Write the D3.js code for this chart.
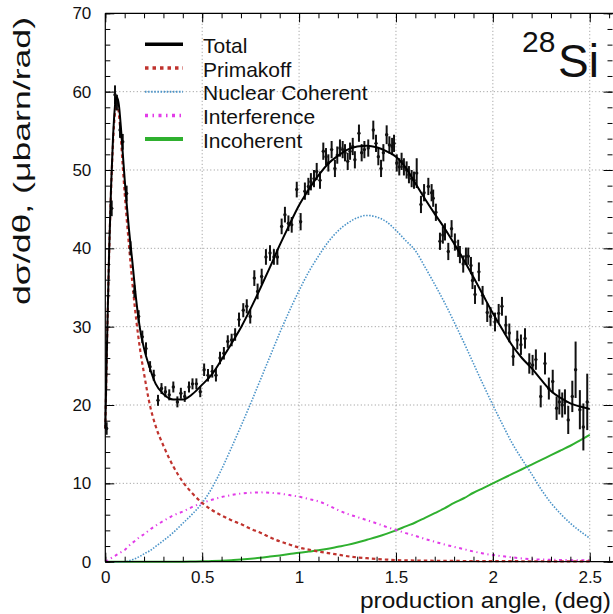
<!DOCTYPE html>
<html><head><meta charset="utf-8">
<script src="https://cdn.jsdelivr.net/npm/d3@7"></script>
<style>body{margin:0;background:#fff}svg{display:block}text{font-family:"Liberation Sans",Arial,Helvetica,sans-serif;fill:#111}</style>
</head><body><svg id="c" width="613" height="614"></svg>
<script>
// ---- curve grid (production angle, deg) ----
const gridAngle = [0,0.01,0.02,0.03,0.04,0.05,0.055,0.06,0.065,0.07,0.08,0.09,0.1,0.12,0.14,0.16,0.18,0.2,0.23,0.26,0.3,0.35,0.4,0.45,0.5,0.55,0.6,0.65,0.7,0.75,0.8,0.85,0.9,0.95,1.0,1.05,1.1,1.15,1.2,1.25,1.3,1.35,1.4,1.45,1.5,1.55,1.6,1.65,1.7,1.75,1.8,1.85,1.9,1.95,2.0,2.05,2.1,2.15,2.2,2.25,2.3,2.35,2.4,2.45,2.5];
const totalCurve = [17,29.2,39.8,48,54.2,58.2,59.2,59.3,59,58.3,55.6,52.2,48.8,43,38.2,33.3,29.6,27.2,24.7,22.7,21.4,20.7,20.7,21.4,22.6,23.9,25.8,27.8,29.9,32.3,34.9,37.6,40.4,43.0,45.5,47.5,49.3,50.8,51.8,52.6,53.0,53.1,52.9,52.4,51.7,50.3,48.3,46.3,44.4,42.6,40.6,38.5,36.3,34.0,31.7,29.6,27.6,26.0,24.7,23.2,21.8,20.9,20.2,19.8,19.5];
const primakoffCurve = [17,29,39.5,47.5,53.5,57.3,58.3,58.5,58.2,57.2,54.2,50.5,47,41,35.5,30.8,27,24,20,17.3,14.8,12.2,10.2,8.7,7.5,6.6,5.9,5.3,4.8,4.2,3.7,3.1,2.6,2.2,1.8,1.55,1.3,1.1,0.9,0.7,0.55,0.45,0.35,0.27,0.2,0.17,0.15,0.13,0.12,0.1,0.1,0.09,0.09,0.08,0.08,0.07,0.07,0.06,0.06,0.06,0.05,0.05,0.05,0.05,0.05];
const nuclearCurve = [0,0,0,0,0,0,0,0,0,0,0,0,0,0.1,0.25,0.45,0.7,1.0,1.4,1.95,2.7,3.7,4.9,6.1,7.5,9.4,11.8,14.5,17.3,20.2,23.2,26.2,29.2,32.0,34.6,37.0,39.0,40.8,42.2,43.2,43.9,44.2,44.0,43.4,42.3,41.0,39.7,37.6,35.4,33.1,30.6,28.0,25.3,22.6,20.0,17.5,15.1,13.1,11.2,9.2,7.5,6.1,4.9,3.9,3.0];
const interferenceCurve = [0,0.15,0.3,0.45,0.6,0.75,0.83,0.9,0.97,1.05,1.2,1.35,1.5,2.0,2.4,2.8,3.2,3.5,4.1,4.6,5.2,5.9,6.4,7.0,7.5,7.9,8.25,8.5,8.7,8.8,8.85,8.8,8.7,8.5,8.3,8.0,7.7,7.2,6.6,6.1,5.7,5.3,4.9,4.45,4.05,3.65,3.3,2.9,2.55,2.2,1.9,1.6,1.3,1.05,0.85,0.7,0.55,0.42,0.32,0.28,0.25,0.22,0.2,0.2,0.2];
const incoherentCurve = [0,0,0,0,0,0,0,0,0,0,0,0,0,0,0,0,0,0,0,0,0,0,0,0.02,0.05,0.08,0.13,0.2,0.28,0.38,0.5,0.65,0.8,0.97,1.15,1.3,1.45,1.65,1.9,2.15,2.45,2.8,3.15,3.55,4.0,4.5,5.0,5.6,6.2,6.8,7.5,8.1,8.8,9.4,10.0,10.6,11.2,11.8,12.4,13.0,13.6,14.2,14.8,15.5,16.2];

// ---- measured points ----
const dataAngle = [0.007,0.033,0.050,0.060,0.076,0.090,0.110,0.130,0.150,0.172,0.191,0.210,0.231,0.250,0.272,0.290,0.310,0.330,0.351,0.372,0.390,0.410,0.432,0.450,0.470,0.490,0.510,0.530,0.552,0.571,0.592,0.612,0.632,0.652,0.670,0.690,0.712,0.730,0.748,0.769,0.786,0.807,0.829,0.850,0.870,0.888,0.910,0.927,0.945,0.962,0.988,1.008,1.030,1.048,1.061,1.077,1.091,1.108,1.125,1.139,1.151,1.168,1.185,1.197,1.211,1.225,1.237,1.251,1.263,1.277,1.288,1.309,1.323,1.337,1.357,1.383,1.397,1.409,1.423,1.435,1.452,1.466,1.480,1.490,1.504,1.517,1.529,1.541,1.555,1.567,1.581,1.593,1.607,1.629,1.645,1.667,1.684,1.692,1.706,1.727,1.742,1.753,1.770,1.787,1.804,1.821,1.830,1.847,1.861,1.873,1.887,1.895,1.908,1.928,1.947,1.971,1.988,2.011,2.030,2.047,2.067,2.085,2.105,2.126,2.145,2.166,2.188,2.205,2.222,2.247,2.269,2.289,2.309,2.329,2.343,2.358,2.372,2.389,2.410,2.427,2.449,2.467,2.487];
const dataValue = [17.0,45.1,59.6,58.6,55.1,53.6,47.0,40.0,34.5,31.3,28.7,27.2,24.9,23.8,20.6,22.1,21.7,21.3,22.3,20.4,21.5,21.1,22.3,22.7,22.7,21.7,24.5,23.8,24.3,23.8,26.0,26.6,28.1,28.3,29.0,30.9,32.1,32.6,31.3,36.2,34.5,36.4,38.9,39.4,38.9,38.9,42.8,44.3,43.2,43.0,47.5,43.4,47.3,47.9,48.5,48.9,49.8,48.7,52.4,51.7,50.9,52.6,50.2,51.9,52.8,52.6,52.2,51.1,52.4,53.0,51.3,54.7,52.2,52.6,52.8,55.1,53.4,51.7,50.2,52.2,54.5,53.2,53.0,53.4,50.9,50.4,51.1,50.4,50.0,49.4,48.9,48.7,49.6,45.6,47.1,47.9,47.1,46.4,44.6,40.9,41.7,42.1,39.6,42.5,40.8,40.0,39.2,38.0,39.0,39.0,37.8,35.9,34.1,37.0,34.0,31.8,31.3,30.6,31.7,32.6,30.2,29.2,26.2,28.3,27.7,28.5,25.3,25.1,25.8,21.1,25.3,22.1,23.0,19.6,20.4,20.0,20.4,18.1,21.1,24.5,19.4,17.2,20.4];
const dataError = [0.8,1.0,1.2,1.0,1.0,1.0,1.0,0.9,0.8,0.8,0.8,0.8,0.7,0.7,0.7,0.7,0.7,0.7,0.7,0.7,0.7,0.7,0.7,0.7,0.7,0.7,0.8,0.8,0.8,0.8,0.8,0.8,0.8,0.8,0.8,0.9,0.9,0.9,0.9,1.0,1.0,1.0,1.0,1.0,1.0,1.0,1.0,1.0,1.0,1.0,1.0,1.1,1.1,1.1,1.1,1.1,1.1,1.1,1.1,1.1,1.1,1.1,1.1,1.1,1.1,1.1,1.1,1.1,1.1,1.1,1.1,1.1,1.1,1.1,1.1,1.2,1.1,1.1,1.1,1.1,1.2,1.1,1.1,1.1,1.1,1.1,1.1,1.1,1.1,1.1,1.1,1.1,1.9,1.1,1.1,1.1,1.1,1.1,1.1,1.1,1.1,1.1,1.1,1.1,1.1,1.1,1.1,1.1,1.1,1.1,1.1,1.1,1.2,1.2,1.2,1.2,1.2,1.2,1.2,1.2,1.2,1.2,1.2,1.2,1.3,1.3,1.3,1.3,1.3,1.4,1.4,1.4,1.5,1.5,1.6,1.6,1.6,1.8,2.0,3.6,2.5,3.0,3.6];

// ---- axes & labels ----
const xMajorTicks = [0,0.5,1,1.5,2,2.5];
const xTickLabels = ["0","0.5","1","1.5","2","2.5"];
const yMajorTicks = [0,10,20,30,40,50,60,70];
const yTickLabels = ["0","10","20","30","40","50","60","70"];
const legendNames = ["Total","Primakoff","Nuclear Coherent","Interference","Incoherent"];
const xTitle = "production angle, (deg)";
const yTitle = "dσ/dθ, (μbarn/rad)";

const svg = d3.select("#c");
const L=105.3, R=613, T=13.3, B=561.7;
const x = d3.scaleLinear([0,2.62],[L,R]);
const y = d3.scaleLinear([0,70],[B,T]);

// grid
const g = svg.append("g");
g.selectAll("line.gx").data(xMajorTicks.slice(1)).join("line")
  .attr("x1",d=>x(d)).attr("x2",d=>x(d)).attr("y1",T).attr("y2",B)
  .attr("stroke","#888").attr("stroke-width",0.9).attr("stroke-dasharray","1,2.5");
g.selectAll("line.gy").data(yMajorTicks.slice(1,-1)).join("line")
  .attr("x1",L).attr("x2",R).attr("y1",d=>y(d)).attr("y2",d=>y(d))
  .attr("stroke","#888").attr("stroke-width",0.9).attr("stroke-dasharray","1,2.5");

// curves
const rows = gridAngle.map((a,i)=>({a,i}));
function drawCurve(vals,color,w,dash){
  const line = d3.line().x(d=>x(d.a)).y(d=>y(vals[d.i])).curve(d3.curveMonotoneX);
  svg.append("path").datum(rows).attr("d",line).attr("fill","none")
    .attr("stroke",color).attr("stroke-width",w).attr("stroke-dasharray",dash||null);
}
const colors = ["#000000","#c0332e","#4a93c8","#e23be8","#2fb02f"];
const dashes = [null,"3.5,3","1.5,1.5","3,3.5,1.2,3.5",null];
drawCurve(incoherentCurve,colors[4],2,null);
drawCurve(interferenceCurve,colors[3],2,dashes[3]);
drawCurve(nuclearCurve,colors[2],1.6,dashes[2]);
drawCurve(primakoffCurve,colors[1],2.2,dashes[1]);

// data points
const pts = dataAngle.map((a,i)=>({a,v:dataValue[i],e:dataError[i]}));
svg.append("g").selectAll("line").data(pts).join("line")
  .attr("x1",d=>x(d.a)).attr("x2",d=>x(d.a)).attr("y1",d=>y(d.v-d.e)).attr("y2",d=>y(d.v+d.e))
  .attr("stroke","#111").attr("stroke-width",2);
svg.append("g").selectAll("circle").data(pts).join("circle")
  .attr("cx",d=>x(d.a)).attr("cy",d=>y(d.v)).attr("r",1.7).attr("fill","#111");

drawCurve(totalCurve,colors[0],2,null);

// axes
function minor(lo,hi,step){const r=[];for(let v=lo;v<=hi+1e-9;v+=step)r.push(+v.toFixed(3));return r;}
const xMinor = minor(0,2.6,0.1), yMinor = minor(0,70,2);
const ax = (sel)=>sel.call(s=>s.select(".domain").remove()).selectAll("line").attr("stroke","#000");
svg.append("g").attr("transform",`translate(0,${B})`)
  .call(d3.axisBottom(x).tickValues(xMinor).tickSizeInner(-5).tickSizeOuter(0).tickFormat("")).call(ax);
const bx = svg.append("g").attr("transform",`translate(0,${B})`)
  .call(d3.axisBottom(x).tickValues(xMajorTicks).tickSizeInner(-9).tickSizeOuter(0).tickPadding(9).tickFormat((d,i)=>xTickLabels[i]));
bx.call(ax); bx.selectAll("text").attr("font-size",17).attr("fill","#222");
svg.append("g").attr("transform",`translate(0,${T})`)
  .call(d3.axisTop(x).tickValues(xMinor).tickSizeInner(-5).tickSizeOuter(0).tickFormat("")).call(ax);
svg.append("g").attr("transform",`translate(0,${T})`)
  .call(d3.axisTop(x).tickValues(xMajorTicks).tickSizeInner(-9).tickSizeOuter(0).tickFormat("")).call(ax);
svg.append("g").attr("transform",`translate(${L},0)`)
  .call(d3.axisLeft(y).tickValues(yMinor).tickSizeInner(-5).tickSizeOuter(0).tickFormat("")).call(ax);
const ly = svg.append("g").attr("transform",`translate(${L},0)`)
  .call(d3.axisLeft(y).tickValues(yMajorTicks).tickSizeInner(-9).tickSizeOuter(0).tickPadding(14).tickFormat((d,i)=>yTickLabels[i]));
ly.call(ax); ly.selectAll("text").attr("font-size",17).attr("fill","#222");
svg.append("g").attr("transform",`translate(${R-0.5},0)`)
  .call(d3.axisRight(y).tickValues(yMinor).tickSizeInner(-5).tickSizeOuter(0).tickFormat("")).call(ax);
svg.append("g").attr("transform",`translate(${R-0.5},0)`)
  .call(d3.axisRight(y).tickValues(yMajorTicks).tickSizeInner(-9).tickSizeOuter(0).tickFormat("")).call(ax);
// frame
svg.append("path").attr("d",`M${L},${B}H${R}M${L},${T}H${R}M${L},${T}V${B}`)
  .attr("stroke","#000").attr("stroke-width",1.2).attr("fill","none");

// legend
const lg = svg.append("g");
const lw = [3.5,3.5,2,3.5,4];
const ldash = [null,"3.5,4","1.5,1.6","3,4.5,1.5,4.5",null];
legendNames.forEach((n,i)=>{
  const yy = 44.3 + i*23.7;
  lg.append("line").attr("x1",145).attr("x2",183).attr("y1",yy).attr("y2",yy)
    .attr("stroke",colors[i]).attr("stroke-width",lw[i]).attr("stroke-dasharray",ldash[i]);
  lg.append("text").attr("x",203).attr("y",yy+8.5).attr("font-size",21).text(n);
});

// isotope label
const iso = svg.append("text").attr("x",522).attr("y",52);
iso.append("tspan").attr("font-size",30).text("28");
iso.append("tspan").attr("font-size",46).attr("x",558).attr("y",77).text("Si");

// titles
svg.append("text").attr("x",611).attr("y",608).attr("text-anchor","end").attr("font-size",22)
  .attr("textLength",251).attr("lengthAdjust","spacingAndGlyphs").text(xTitle);
svg.append("text").attr("transform","translate(30,305) rotate(-90)").attr("text-anchor","start").attr("font-size",24)
  .attr("textLength",288).attr("lengthAdjust","spacingAndGlyphs").text(yTitle);
</script></body></html>
